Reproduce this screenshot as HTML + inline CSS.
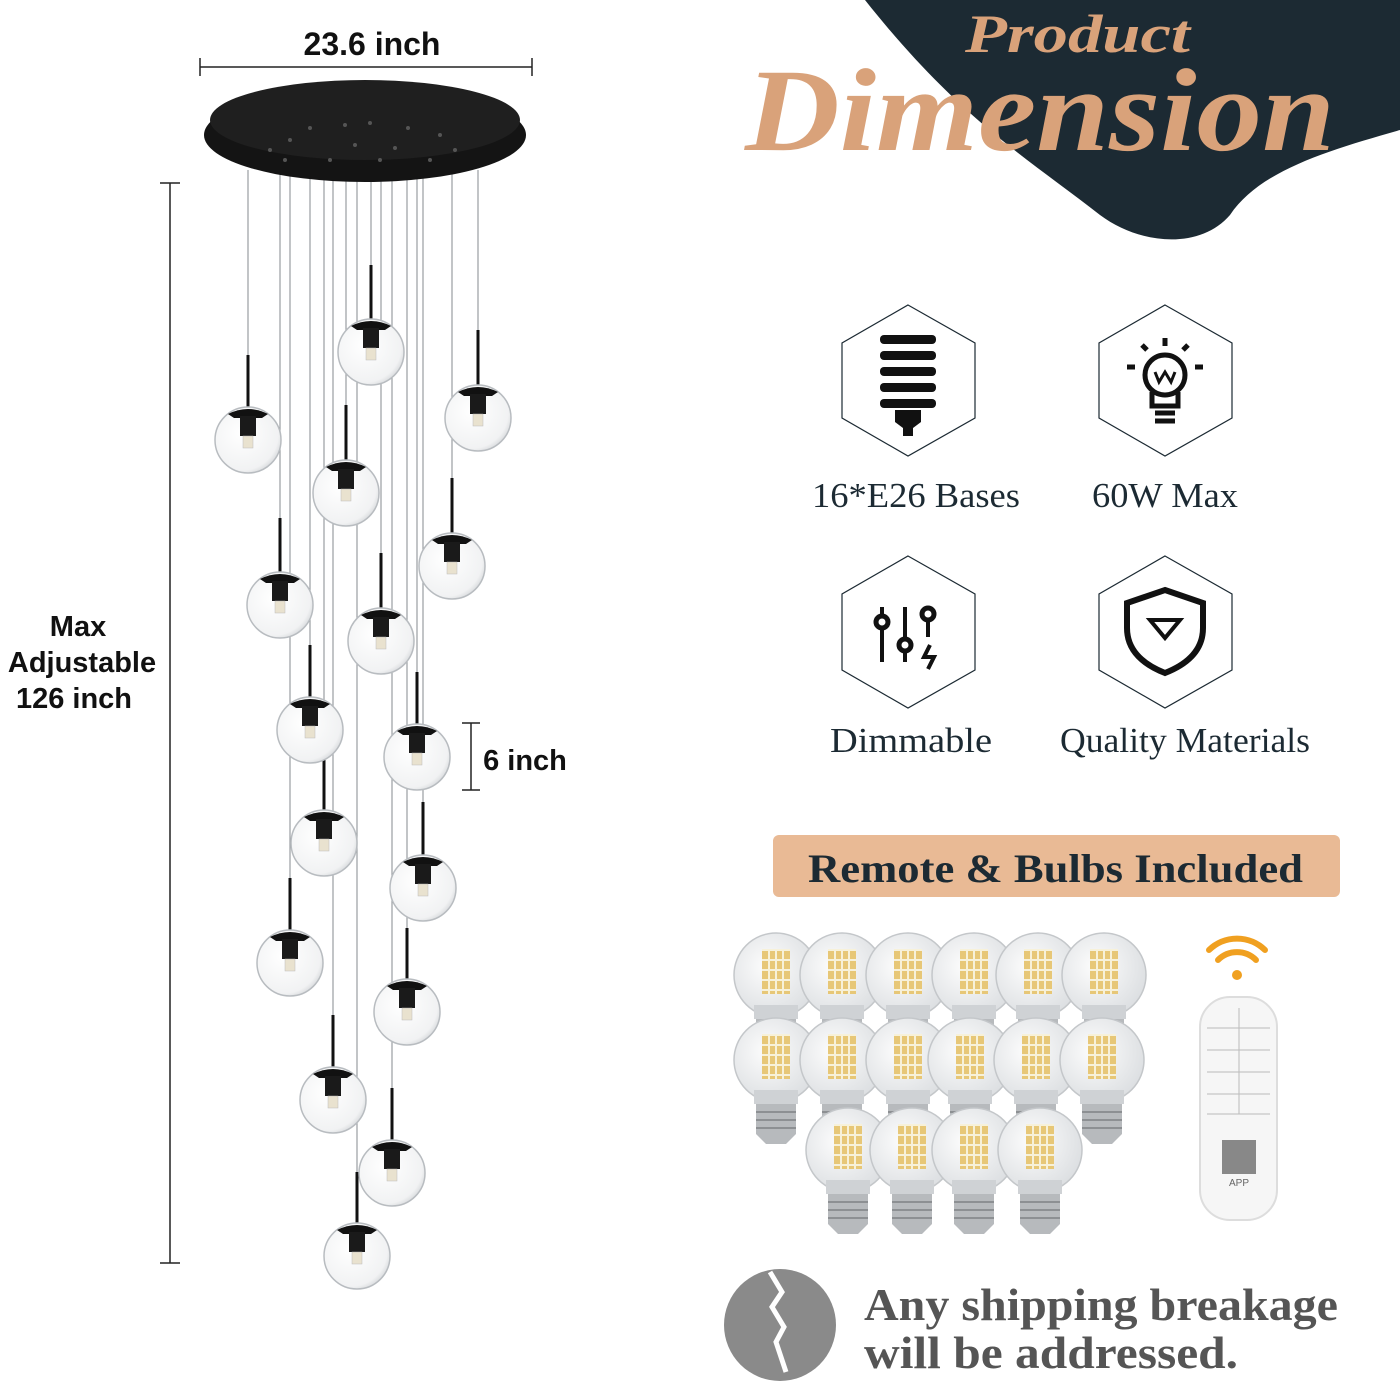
<!DOCTYPE html>
<html><head><meta charset="utf-8"><style>
html,body{margin:0;padding:0;background:#fff;}
body{width:1400px;height:1400px;overflow:hidden;position:relative;}
svg{position:absolute;left:0;top:0;}
</style></head><body>
<svg width="1400" height="1400" viewBox="0 0 1400 1400" xmlns="http://www.w3.org/2000/svg">
<defs>
<radialGradient id="gl" cx="0.4" cy="0.4" r="0.7"><stop offset="0" stop-color="#ffffff"/><stop offset="0.8" stop-color="#f1f2f3"/><stop offset="1" stop-color="#c9ccd0"/></radialGradient>
<radialGradient id="bb" cx="0.4" cy="0.4" r="0.7"><stop offset="0" stop-color="#fdfdfd"/><stop offset="1" stop-color="#d9dcdf"/></radialGradient>
<g id="pend">
<circle cx="0" cy="0" r="33" fill="url(#gl)" stroke="#b8bcc0" stroke-width="1.5"/>
<path d="M-20,-26 Q0,-36 20,-26 L14,-22 L-14,-22Z" fill="#111"/>
<rect x="-8" y="-24" width="16" height="20" fill="#1a1a1a"/>
<rect x="-5" y="-4" width="10" height="12" fill="#e9e2cf" stroke="#bbb" stroke-width="0.5"/>
</g>
<g id="bulb">
<circle cx="0" cy="0" r="42" fill="url(#bb)" stroke="#c4c7ca" stroke-width="1.5"/>
<rect x="-14" y="-25" width="28" height="44" fill="#e7c777"/>
<path d="M-14,-25h28M-14,-15h28M-14,-5h28M-14,5h28M-14,15h28M-7,-25v44M0,-25v44M7,-25v44" stroke="#f7f1d9" stroke-width="2"/>
<path d="M-22,30 h44 v14 h-44z" fill="#cfd2d5"/>
<path d="M-20,44 h40 v30 l-10,10 h-20 l-10,-10z" fill="#b7babd"/>
<path d="M-20,52h40M-20,60h40M-20,68h40" stroke="#8d9093" stroke-width="2"/>
</g>
</defs>

<path d="M865,0 L1400,0 L1400,130 C1330,150 1260,170 1230,215 C1200,250 1140,245 1100,215 C1030,160 960,120 865,0Z" fill="#1c2a33"/>
<text x="965" y="52" textLength="225" lengthAdjust="spacingAndGlyphs" font-family="Liberation Serif,serif" font-style="italic" font-weight="bold" font-size="54" fill="#d9a27a">Product</text>
<text x="745" y="150" textLength="590" lengthAdjust="spacingAndGlyphs" font-family="Liberation Serif,serif" font-style="italic" font-weight="bold" font-size="118" fill="#d9a27a">Dimension</text>

<text x="372" y="55" text-anchor="middle" font-family="Liberation Sans,sans-serif" font-weight="bold" font-size="32" fill="#111">23.6 inch</text>
<line x1="200" y1="67" x2="532" y2="67" stroke="#222" stroke-width="1.5"/>
<line x1="200" y1="58" x2="200" y2="76" stroke="#222" stroke-width="1.5"/>
<line x1="532" y1="58" x2="532" y2="76" stroke="#222" stroke-width="1.5"/>
<line x1="170" y1="183" x2="170" y2="1263" stroke="#222" stroke-width="1.5"/>
<line x1="160" y1="183" x2="180" y2="183" stroke="#222" stroke-width="1.5"/>
<line x1="160" y1="1263" x2="180" y2="1263" stroke="#222" stroke-width="1.5"/>
<g font-family="Liberation Sans,sans-serif" font-weight="bold" font-size="29" fill="#111" text-anchor="middle">
<text x="78" y="636">Max</text><text x="82" y="672">Adjustable</text><text x="74" y="708">126 inch</text>
<text x="525" y="770">6 inch</text></g>
<line x1="471" y1="723" x2="471" y2="790" stroke="#222" stroke-width="1.5"/>
<line x1="462" y1="723" x2="480" y2="723" stroke="#222" stroke-width="1.5"/>
<line x1="462" y1="790" x2="480" y2="790" stroke="#222" stroke-width="1.5"/>

<g stroke="#9a9ea2" stroke-width="1.2">
<line x1="248" y1="170" x2="248" y2="410"/><line x1="371" y1="170" x2="371" y2="322"/><line x1="478" y1="170" x2="478" y2="388"/>
<line x1="346" y1="170" x2="346" y2="463"/><line x1="452" y1="170" x2="452" y2="536"/><line x1="280" y1="170" x2="280" y2="575"/>
<line x1="381" y1="170" x2="381" y2="611"/><line x1="310" y1="170" x2="310" y2="700"/><line x1="417" y1="170" x2="417" y2="727"/>
<line x1="324" y1="170" x2="324" y2="813"/><line x1="423" y1="170" x2="423" y2="858"/><line x1="290" y1="170" x2="290" y2="933"/>
<line x1="407" y1="170" x2="407" y2="982"/><line x1="333" y1="170" x2="333" y2="1070"/><line x1="392" y1="170" x2="392" y2="1143"/>
<line x1="357" y1="170" x2="357" y2="1226"/></g>
<g stroke="#111" stroke-width="3">
<line x1="248" y1="355" x2="248" y2="410"/><line x1="371" y1="265" x2="371" y2="322"/><line x1="478" y1="330" x2="478" y2="388"/>
<line x1="346" y1="405" x2="346" y2="463"/><line x1="452" y1="478" x2="452" y2="536"/><line x1="280" y1="518" x2="280" y2="575"/>
<line x1="381" y1="553" x2="381" y2="611"/><line x1="310" y1="645" x2="310" y2="700"/><line x1="417" y1="672" x2="417" y2="727"/>
<line x1="324" y1="760" x2="324" y2="813"/><line x1="423" y1="802" x2="423" y2="858"/><line x1="290" y1="878" x2="290" y2="933"/>
<line x1="407" y1="928" x2="407" y2="982"/><line x1="333" y1="1015" x2="333" y2="1070"/><line x1="392" y1="1088" x2="392" y2="1143"/>
<line x1="357" y1="1172" x2="357" y2="1226"/></g>

<ellipse cx="365" cy="135" rx="161" ry="47" fill="#141414"/>
<ellipse cx="365" cy="120" rx="155" ry="40" fill="#1f1f1f"/>
<g fill="#555"><circle cx="310" cy="128" r="2"/><circle cx="345" cy="125" r="2"/><circle cx="370" cy="123" r="2"/><circle cx="408" cy="128" r="2"/><circle cx="285" cy="160" r="2"/><circle cx="330" cy="160" r="2"/><circle cx="380" cy="160" r="2"/><circle cx="430" cy="160" r="2"/><circle cx="455" cy="150" r="2"/><circle cx="270" cy="150" r="2"/><circle cx="290" cy="140" r="2"/><circle cx="440" cy="135" r="2"/><circle cx="355" cy="145" r="2"/><circle cx="395" cy="148" r="2"/></g>

<use href="#pend" x="248" y="440"/><use href="#pend" x="371" y="352"/><use href="#pend" x="478" y="418"/>
<use href="#pend" x="346" y="493"/><use href="#pend" x="452" y="566"/><use href="#pend" x="280" y="605"/>
<use href="#pend" x="381" y="641"/><use href="#pend" x="310" y="730"/><use href="#pend" x="417" y="757"/>
<use href="#pend" x="324" y="843"/><use href="#pend" x="423" y="888"/><use href="#pend" x="290" y="963"/>
<use href="#pend" x="407" y="1012"/><use href="#pend" x="333" y="1100"/><use href="#pend" x="392" y="1173"/>
<use href="#pend" x="357" y="1256"/>

<g fill="#fff" stroke="#1c2a33" stroke-width="1.2">
<polygon points="908,305 975,343 975,418 908,456 842,418 842,343"/>
<polygon points="1165,305 1232,343 1232,418 1165,456 1099,418 1099,343"/>
<polygon points="908,556 975,594 975,670 908,708 842,670 842,594"/>
<polygon points="1165,556 1232,594 1232,670 1165,708 1099,670 1099,594"/>
</g>
<g fill="#111">
<rect x="880" y="335" width="56" height="9" rx="4"/><rect x="880" y="351" width="56" height="9" rx="4"/><rect x="880" y="367" width="56" height="9" rx="4"/><rect x="880" y="383" width="56" height="9" rx="4"/><rect x="880" y="399" width="56" height="9" rx="4"/>
<path d="M895,410 h26 v12 l-8,6 v8 h-10 v-8 l-8,-6z"/>
</g>
<g fill="none" stroke="#111" stroke-width="5">
<circle cx="1165" cy="375" r="20"/><path d="M1152,392 v14 h26 v-14"/><path d="M1155,413 h20 M1155,421 h20"/>
<path d="M1155,372 l4,10 l6,-10 l6,10 l4,-10" stroke-width="3"/>
<path d="M1165,338 v8 M1135,367 h-8 M1195,367 h8 M1142,345 l5,5 M1188,345 l-5,5"/>
<path d="M882,607 v55 M905,607 v55 M928,607 v30" stroke-width="4"/>
<circle cx="882" cy="622" r="6" fill="#fff"/><circle cx="905" cy="645" r="6" fill="#fff"/><circle cx="928" cy="614" r="6" fill="#fff"/>
<path d="M930,645 l-6,12 h10 l-6,12" stroke-width="4"/>
<path d="M1165,590 l38,13 v25 q0,30 -38,45 q-38,-15 -38,-45 v-25z" stroke-width="6"/>
<path d="M1150,620 h30 l-15,18z" stroke-width="4"/>
</g>
<g font-family="Liberation Serif,serif" font-size="35" fill="#1c2a33">
<text x="812" y="507" textLength="208" lengthAdjust="spacingAndGlyphs">16*E26 Bases</text><text x="1092" y="507" textLength="146" lengthAdjust="spacingAndGlyphs">60W Max</text>
<text x="830" y="752" textLength="162" lengthAdjust="spacingAndGlyphs">Dimmable</text><text x="1060" y="752" textLength="250" lengthAdjust="spacingAndGlyphs">Quality Materials</text></g>

<rect x="773" y="835" width="567" height="62" rx="6" fill="#e9ba95"/>
<text x="808" y="882" textLength="495" lengthAdjust="spacingAndGlyphs" font-family="Liberation Serif,serif" font-weight="bold" font-size="40" fill="#1c2a33">Remote &amp; Bulbs Included</text>

<use href="#bulb" x="776" y="975"/><use href="#bulb" x="842" y="975"/><use href="#bulb" x="908" y="975"/><use href="#bulb" x="974" y="975"/><use href="#bulb" x="1038" y="975"/><use href="#bulb" x="1104" y="975"/>
<use href="#bulb" x="776" y="1060"/><use href="#bulb" x="842" y="1060"/><use href="#bulb" x="908" y="1060"/><use href="#bulb" x="970" y="1060"/><use href="#bulb" x="1036" y="1060"/><use href="#bulb" x="1102" y="1060"/>
<use href="#bulb" x="848" y="1150"/><use href="#bulb" x="912" y="1150"/><use href="#bulb" x="974" y="1150"/><use href="#bulb" x="1040" y="1150"/>

<rect x="1200" y="997" width="77" height="223" rx="30" fill="#f6f6f6" stroke="#ddd" stroke-width="2"/>
<g stroke="#bbb" stroke-width="1"><line x1="1207" y1="1028" x2="1270" y2="1028"/><line x1="1207" y1="1050" x2="1270" y2="1050"/><line x1="1207" y1="1072" x2="1270" y2="1072"/><line x1="1207" y1="1094" x2="1270" y2="1094"/><line x1="1207" y1="1114" x2="1270" y2="1114"/><line x1="1239" y1="1008" x2="1239" y2="1114"/></g>
<rect x="1222" y="1140" width="34" height="34" fill="#888"/>
<text x="1239" y="1186" text-anchor="middle" font-family="Liberation Sans,sans-serif" font-size="10" fill="#666">APP</text>
<g fill="none" stroke="#f0a020" stroke-width="6" stroke-linecap="round">
<path d="M1209,950 a40,40 0 0 1 56,0"/><path d="M1218,960 a27,27 0 0 1 38,0"/></g>
<circle cx="1237" cy="975" r="5" fill="#f0a020"/>

<circle cx="780" cy="1325" r="56" fill="#8a8a8a"/>
<path d="M770,1272 l12,20 l-10,15 l12,20 l-8,15 l10,30" stroke="#fff" stroke-width="5" fill="none"/>
<g font-family="Liberation Serif,serif" font-weight="bold" font-size="46" fill="#555">
<text x="864" y="1320" textLength="474" lengthAdjust="spacingAndGlyphs">Any shipping breakage</text><text x="864" y="1368" textLength="374" lengthAdjust="spacingAndGlyphs">will be addressed.</text></g>
</svg>
</body></html>
